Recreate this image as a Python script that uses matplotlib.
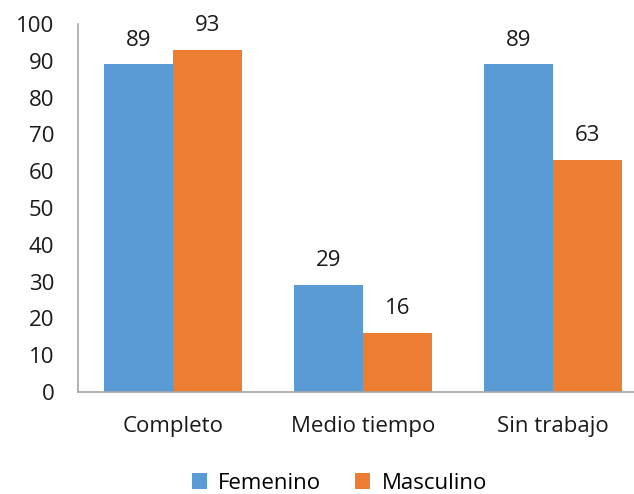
import numpy as np
import matplotlib.pyplot as plt

categories = ['Completo', 'Medio tiempo', 'Sin trabajo']
femenino = [89, 29, 89]
masculino = [93, 16, 63]
series_names = ['Femenino', 'Masculino']
colors = ['#5B9BD5', '#ED7D31']

plt.rcParams['font.family'] = ['Open Sans', 'DejaVu Sans']

fig = plt.figure(figsize=(6.34, 4.94), dpi=100)
ax = fig.add_axes([78 / 634, 1 - 392 / 494, (634 - 78) / 634, (392 - 24) / 494])

x = np.arange(len(categories))
w = 0.363
b1 = ax.bar(x - w / 2, femenino, w, color=colors[0], label=series_names[0])
b2 = ax.bar(x + w / 2, masculino, w, color=colors[1], label=series_names[1])

for bars in (b1, b2):
    for rect in bars:
        ax.annotate(f'{int(rect.get_height())}',
                    (rect.get_x() + rect.get_width() / 2, rect.get_height()),
                    xytext=(0, 10), textcoords='offset points',
                    ha='center', va='bottom', fontsize=16, color='#1a1a1a',
                    annotation_clip=False)

ax.set_xlim(-0.5, 2.426)
ax.set_ylim(0, 100)
ax.set_yticks(range(0, 101, 10))
ax.set_xticks(x)
ax.set_xticklabels(categories)
ax.tick_params(axis='both', length=0, labelsize=16, colors='#1a1a1a')
ax.tick_params(axis='y', pad=17)
ax.tick_params(axis='x', pad=17)

for s in ['top', 'right']:
    ax.spines[s].set_visible(False)
for s in ['left', 'bottom']:
    ax.spines[s].set_color('#a6a6a6')
    ax.spines[s].set_linewidth(1.2)

fig.legend(loc='center', bbox_to_anchor=(0.535, 1 - 483 / 494), ncol=2, frameon=False,
           fontsize=16, handlelength=0.7, handleheight=0.7, columnspacing=1.5,
           handletextpad=0.5)

fig.savefig('out.png', dpi=100)
